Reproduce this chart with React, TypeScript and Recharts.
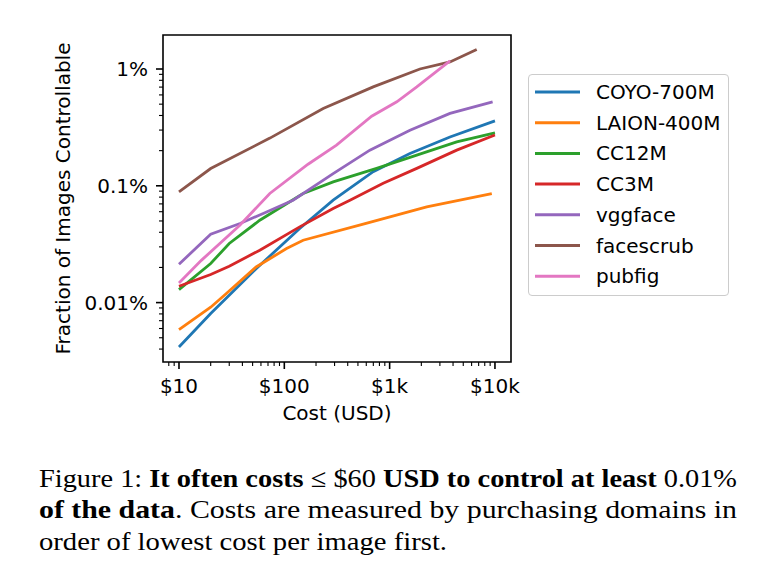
import React from 'react';
import { LineChart, Line, XAxis, YAxis, Legend, ReferenceArea } from 'recharts';

const SERIES_NAMES = ['COYO-700M', 'LAION-400M', 'CC12M', 'CC3M', 'vggface', 'facescrub', 'pubfig'];
const SERIES_COLORS = ['#1f77b4', '#ff7f0e', '#2ca02c', '#d62728', '#9467bd', '#8c564b', '#e377c2'];

const COST_COYO = [10, 20, 54, 140, 291, 698, 1560, 3740, 10000];
const FRAC_COYO = [0.00417, 0.00805, 0.0195, 0.0431, 0.0753, 0.132, 0.189, 0.262, 0.36];

const COST_LAION = [10, 20, 28, 54, 105, 151, 585, 2250, 9330];
const FRAC_LAION = [0.00587, 0.00912, 0.0119, 0.0202, 0.029, 0.0342, 0.0475, 0.0659, 0.0859];

const COST_CC12M = [10, 20, 30, 58.5, 151, 291, 752, 1810, 4335, 10000];
const FRAC_CC12M = [0.0129, 0.0216, 0.0321, 0.0507, 0.0859, 0.108, 0.141, 0.183, 0.238, 0.284];

const COST_CC3M = [10, 20, 30, 58.5, 140, 291, 420, 869, 1810, 4335, 10000];
const FRAC_CC3M = [0.0138, 0.0174, 0.0205, 0.0281, 0.0445, 0.0638, 0.0753, 0.105, 0.141, 0.202, 0.272];

const COST_VGG = [10, 20, 38, 63, 121, 291, 649, 1560, 3740, 9500];
const FRAC_VGG = [0.0213, 0.0385, 0.0475, 0.058, 0.0753, 0.127, 0.202, 0.299, 0.417, 0.524];

const COST_FACESCRUB = [10, 20, 73, 234, 698, 1940, 3740, 6710];
const FRAC_FACESCRUB = [0.0888, 0.1406, 0.256, 0.459, 0.703, 1.0, 1.15, 1.47];

const COST_PUBFIG = [10, 16.3, 37.8, 72.8, 168, 313, 675, 1170, 1810, 3740];
const FRAC_PUBFIG = [0.0147, 0.023, 0.0459, 0.0859, 0.153, 0.223, 0.394, 0.524, 0.703, 1.175];

const X_MAJOR = [10, 100, 1000, 10000];
const X_MAJOR_LABELS = ['$10', '$100', '$1k', '$10k'];
const X_MINOR = [8, 9, 20, 30, 40, 50, 60, 70, 80, 90, 200, 300, 400, 500, 600, 700, 800, 900, 2000, 3000, 4000, 5000, 6000, 7000, 8000, 9000];
const Y_MAJOR = [0.01, 0.1, 1];
const Y_MAJOR_LABELS = ['0.01%', '0.1%', '1%'];
const Y_MINOR = [0.004, 0.005, 0.006, 0.007, 0.008, 0.009, 0.02, 0.03, 0.04, 0.05, 0.06, 0.07, 0.08, 0.09, 0.2, 0.3, 0.4, 0.5, 0.6, 0.7, 0.8, 0.9];

const X_DOMAIN = [7.05, 14200];
const Y_DOMAIN = [0.0031, 1.955];

const X_LABEL = 'Cost (USD)';
const Y_LABEL = 'Fraction of Images Controllable';

const zip = (xs: number[], ys: number[]) => xs.map((x, i) => ({ x, y: ys[i] }));
const SERIES_DATA = [
  zip(COST_COYO, FRAC_COYO),
  zip(COST_LAION, FRAC_LAION),
  zip(COST_CC12M, FRAC_CC12M),
  zip(COST_CC3M, FRAC_CC3M),
  zip(COST_VGG, FRAC_VGG),
  zip(COST_FACESCRUB, FRAC_FACESCRUB),
  zip(COST_PUBFIG, FRAC_PUBFIG),
];

const FONT = '"DejaVu Sans", sans-serif';
const near = (a: number, b: number) => Math.abs(a - b) / b < 1e-6;

const XTick = (props: any) => {
  const { x, y, payload } = props;
  const idx = X_MAJOR.findIndex((m) => near(payload.value, m));
  const major = idx >= 0;
  return (
    <g>
      <line x1={x} x2={x} y1={y} y2={y + (major ? 7 : 4)} stroke="#000" strokeWidth={major ? 1.6 : 1.1} />
      {major && (
        <text x={x} y={y + 31} textAnchor="middle" fontSize={20} fontFamily={FONT} fill="#000">
          {X_MAJOR_LABELS[idx]}
        </text>
      )}
    </g>
  );
};

const YTick = (props: any) => {
  const { x, y, payload } = props;
  const idx = Y_MAJOR.findIndex((m) => near(payload.value, m));
  const major = idx >= 0;
  return (
    <g>
      <line x1={x - (major ? 7 : 4)} x2={x} y1={y} y2={y} stroke="#000" strokeWidth={major ? 1.6 : 1.1} />
      {major && (
        <text x={x - 15} y={y + 7} textAnchor="end" fontSize={20} fontFamily={FONT} fill="#000">
          {Y_MAJOR_LABELS[idx]}
        </text>
      )}
    </g>
  );
};

const LegendBox = (props: any) => {
  const payload = [...(props.payload || [])].sort(
    (a: any, b: any) => SERIES_NAMES.indexOf(a.value) - SERIES_NAMES.indexOf(b.value)
  );
  return (
    <div
      style={{
        width: 201,
        height: 222,
        boxSizing: 'border-box',
        border: '1.3px solid #cccccc',
        borderRadius: 4,
        background: '#fff',
      }}
    >
      <svg width={199} height={220} style={{ display: 'block' }}>
        {payload.map((p: any, i: number) => (
          <g key={p.value}>
            <line x1={6} x2={51} y1={17 + i * 30.7} y2={17 + i * 30.7} stroke={p.color} strokeWidth={3} />
            <text x={67} y={17 + i * 30.7 + 7} fontSize={20} fontFamily={FONT} fill="#000">
              {p.value}
            </text>
          </g>
        ))}
      </svg>
    </div>
  );
};

export default function App() {
  const ticksX = [...X_MINOR, ...X_MAJOR].sort((a, b) => a - b);
  const ticksY = [...Y_MINOR, ...Y_MAJOR].sort((a, b) => a - b);
  return (
    <div style={{ position: 'absolute', left: 0, top: 0, width: 775, height: 582, background: '#fff' }}>
      <LineChart width={775} height={440} margin={{ top: 35, right: 264, bottom: 0, left: 0 }}>
        <XAxis
          dataKey="x"
          type="number"
          scale="log"
          domain={X_DOMAIN}
          allowDataOverflow
          ticks={ticksX}
          interval={0}
          tick={<XTick />}
          tickLine={false}
          tickSize={0}
          tickMargin={0}
          axisLine={false}
          height={78}
          label={{
            content: (p: any) => (
              <text
                x={p.viewBox.x + p.viewBox.width / 2}
                y={p.viewBox.y + 58}
                textAnchor="middle"
                fontSize={20}
                fontFamily={FONT}
                fill="#000"
              >
                {X_LABEL}
              </text>
            ),
          }}
        />
        <YAxis
          dataKey="y"
          type="number"
          scale="log"
          domain={Y_DOMAIN}
          allowDataOverflow
          ticks={ticksY}
          interval={0}
          tick={<YTick />}
          tickLine={false}
          tickSize={0}
          tickMargin={0}
          axisLine={false}
          width={163}
          label={{
            content: (p: any) => {
              const cx = p.viewBox.x + 63;
              const cy = p.viewBox.y + p.viewBox.height / 2;
              return (
                <text
                  x={cx}
                  y={cy}
                  transform={`rotate(-90 ${cx} ${cy})`}
                  textAnchor="middle"
                  dominantBaseline="central"
                  fontSize={20}
                  fontFamily={FONT}
                  fill="#000"
                >
                  {Y_LABEL}
                </text>
              );
            },
          }}
        />
        {SERIES_DATA.map((d, i) => (
          <Line
            key={SERIES_NAMES[i]}
            data={d}
            dataKey="y"
            name={SERIES_NAMES[i]}
            stroke={SERIES_COLORS[i]}
            strokeWidth={2.8}
            dot={false}
            activeDot={false}
            type="linear"
            isAnimationActive={false}
          />
        ))}
        <ReferenceArea
          x1={X_DOMAIN[0]}
          x2={X_DOMAIN[1]}
          y1={Y_DOMAIN[0]}
          y2={Y_DOMAIN[1]}
          fill="none"
          fillOpacity={0}
          stroke="#000"
          strokeWidth={1.6}
          ifOverflow="visible"
        />
        <Legend
          layout="vertical"
          align="center"
          verticalAlign="middle"
          content={<LegendBox />}
          wrapperStyle={{ left: 528, top: 74, width: 201, height: 222 }}
        />
      </LineChart>
      <svg width={775} height={142} style={{ position: 'absolute', left: 0, top: 440, display: 'block' }}>
        <text x={39} y={46.7} fontFamily='"Liberation Serif", serif' fontSize={26} fill="#000" textLength={698} lengthAdjust="spacingAndGlyphs">
          <tspan>Figure 1: </tspan>
          <tspan fontWeight="bold">It often costs</tspan>
          <tspan> ≤ $60 </tspan>
          <tspan fontWeight="bold">USD to control at least</tspan>
          <tspan> 0.01%</tspan>
        </text>
        <text x={39} y={78.3} fontFamily='"Liberation Serif", serif' fontSize={26} fill="#000" textLength={698} lengthAdjust="spacingAndGlyphs">
          <tspan fontWeight="bold">of the data</tspan>
          <tspan>. Costs are measured by purchasing domains in</tspan>
        </text>
        <text x={39} y={110} fontFamily='"Liberation Serif", serif' fontSize={26} fill="#000" textLength={408} lengthAdjust="spacingAndGlyphs">
          order of lowest cost per image first.
        </text>
      </svg>
    </div>
  );
}
